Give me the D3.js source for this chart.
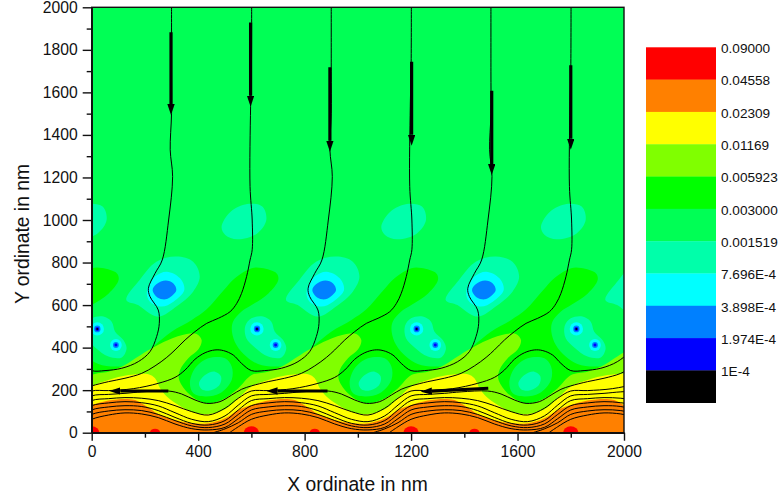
<!DOCTYPE html>
<html>
<head>
<meta charset="utf-8">
<script src="https://cdn.jsdelivr.net/npm/d3@7"></script>
<style>
  html, body { margin: 0; background: #fff; }
  text { font-family: "Liberation Sans", Arial, sans-serif; fill: #111; }
</style>
</head>
<body>
<div id="chart"></div>
<script>
// contour levels, top of the colour bar first
const levelLabels = ['0.09000','0.04558','0.02309','0.01169','0.005923','0.003000','0.001519','7.696E-4','3.898E-4','1.974E-4','1E-4'];
const levelColors = ['#ff0000','#ff8000','#ffff00','#80ff00','#00ff00','#00ff55','#00ffaa','#00ffff','#0080ff','#0000ff','#000000'];

// the field repeats every 600 nm, so one cell is traced and stamped at these offsets (nm)
const cellOffsets = [-600, 0, 600, 1200, 1800, 2400];

// band boundaries in one cell, [x nm, y nm], filled down to y = 0
const greenEdge = [[0,600],[-38,569],[-69,522],[-73,475],[-56,412],[-19,358],[25,323],[88,311],[156,323],[200,365],[238,412],[300,475],[376,530],[432,580],[495,668],[538,726],[601,773],[639,774],[695,749],[701,718],[664,655],[601,600]];
const limeEdge = [[0,271],[63,287],[125,318],[175,358],[219,392],[288,436],[357,464],[394,464],[413,436],[401,392],[363,350],[332,295],[328,251],[357,193],[401,151],[438,138],[495,157],[551,209],[601,271]];
const yellowEdge = [[0,217],[63,248],[138,271],[213,275],[238,256],[257,209],[282,170],[326,130],[376,99],[438,88],[501,110],[551,162],[601,217]];
const orangeEdge = [[0,130],[63,151],[125,159],[163,154],[207,123],[250,88],[313,60],[376,44],[438,44],[501,68],[551,107],[601,130]];

// closed islands in one cell
const tealBlob = [[130,624],[180,718],[243,804],[318,828],[381,804],[406,734],[381,663],[318,593],[255,546],[218,561],[174,600]];
const cyanBlob = [[207,663],[238,734],[282,757],[332,726],[348,671],[307,616],[263,593],[219,616]];
const azureBlob = [[229,671],[244,699],[278,715],[307,702],[318,671],[304,646],[278,627],[247,636]];
const tealDots = [[0,538],[-23,502],[-19,444],[13,401],[63,358],[113,354],[131,397],[119,436],[88,475],[75,522],[44,546]];
const tealUpper = [[-112,968],[-78,1039],[-16,1075],[41,1063],[56,1000],[22,937],[-53,909],[-98,930]];
const pocketOuter = [[369,232],[388,303],[438,350],[501,350],[526,311],[526,248],[482,185],[426,170],[382,185]];
const pocketInner = [[403,232],[426,271],[463,287],[486,264],[480,224],[444,198],[413,204]];

// small spots: centre x, centre y, radius x, radius y (nm), colour index
const spotX = [21,21,21,21,91,91,91];
const spotY = [488,488,488,488,412,412,412];
const spotRx = [25,12,7.5,3.8,22,11,5.6];
const spotRy = [31,16,9.4,4.7,28,14,7];
const spotLevel = [7,8,9,10,7,8,9];

// red caps on the floor
const capX = [0,238];
const capRx = [29,19];
const capRy = [30,19];

// streamline pieces, each crossing one cell from right to left
const lineA1 = [[300,2000],[300,1700],[300,1500],[295,1330],[304,1204],[289,1000],[265,812],[238,749],[213,679],[219,640],[250,577],[254,514],[244,452],[219,381],[175,334],[113,303],[50,292],[0,292]];
const lineB1 = [[601,2000],[600,1700],[597,1533],[595,1157],[603,1000],[603,860],[595,812],[582,734],[563,655],[545,608],[520,569],[476,538],[432,514],[388,475],[351,436],[313,389],[282,354],[238,314],[188,279],[125,256],[63,240],[0,220]];
const lineA2 = [[601,292],[563,326],[532,365],[495,386],[463,389],[426,376],[388,345],[351,295],[313,260],[250,232],[156,207],[63,198],[0,196]];
const lineB2 = [[601,220],[563,204],[526,177],[482,146],[432,138],[388,154],[338,182],[288,196],[188,192],[125,185],[63,180],[0,173]];
const lineC = [[601,196],[551,162],[501,115],[438,83],[376,99],[313,127],[250,151],[188,162],[125,165],[63,160],[0,151]];
const lineD = [[601,173],[551,130],[501,79],[438,52],[376,63],[313,94],[250,126],[188,141],[125,146],[63,140],[0,127]];
const lineE = [[601,151],[551,107],[501,57],[438,36],[376,44],[313,72],[250,104],[188,123],[125,127],[63,121],[0,107]];
const lineF = [[601,127],[551,86],[501,41],[438,24],[376,32],[313,57],[250,86],[188,104],[125,108],[63,102],[0,86]];
const lineG = [[601,107],[551,66],[501,25],[438,13],[376,19],[313,41],[250,71],[188,88],[125,93],[63,83],[0,63]];
const lineH = [[601,86],[551,47],[501,18],[457,0]];
const lineI = [[601,63],[551,28],[518,0]];

// flow arrows: start x, start y, tip x, tip y (nm)
const arrowX0 = [298,597,895,1202,1503,1800,288,886,1490];
const arrowY0 = [1883,1928,1718,1744,1608,1728,196,196,209];
const arrowX1 = [298,597,895,1202,1503,1800,66,657,1237];
const arrowY1 = [1494,1533,1321,1349,1212,1330,196,196,193];

const xMajor = [0,400,800,1200,1600,2000];
const xMinor = [200,600,1000,1400,1800];
const yMajor = [0,200,400,600,800,1000,1200,1400,1600,1800,2000];
const yMinor = [100,300,500,700,900,1100,1300,1500,1700,1900];

const W = 780, H = 500;
const svg = d3.select('#chart').append('svg').attr('width', W).attr('height', H).style('display','block');

const x = d3.scaleLinear().domain([0,2000]).range([91.7,624]);
const y = d3.scaleLinear().domain([0,2000]).range([432.7,7.3]);

svg.append('defs').append('clipPath').attr('id','plot')
  .append('rect')
    .attr('x', x(0)).attr('y', y(2000))
    .attr('width', x(2000)-x(0)).attr('height', y(0)-y(2000));

const headLen = 11;
const head = svg.select('defs').append('marker')
    .attr('id','head')
    .attr('markerUnits','userSpaceOnUse')
    .attr('viewBox',`0 0 ${headLen} 7.4`)
    .attr('refX',0).attr('refY',3.7)
    .attr('markerWidth',headLen).attr('markerHeight',7.4)
    .attr('orient','auto');
head.append('path').attr('d',`M0,0L${headLen},3.7L0,7.4Z`).attr('fill','#000');

const plot = svg.append('g').attr('clip-path','url(#plot)');

plot.append('rect')
  .attr('x', x(0)).attr('y', y(2000))
  .attr('width', x(2000)-x(0)).attr('height', y(0)-y(2000))
  .attr('fill', levelColors[5]);

const smooth = d3.line().x(d => x(d[0])).y(d => y(d[1])).curve(d3.curveCatmullRom.alpha(0.5));
const smoothClosed = d3.line().x(d => x(d[0])).y(d => y(d[1])).curve(d3.curveCatmullRomClosed.alpha(0.5));
const shift = (pts, dx) => pts.map(p => [p[0]+dx, p[1]]);

// glue pieces into one run, each piece dropping the point it shares with the last
function glue(pieces) {
  let out = [];
  pieces.forEach(([pts, dx], i) => {
    out = out.concat(shift(i ? pts.slice(1) : pts, dx));
  });
  return out;
}

function island(pts, level) {
  plot.append('g').selectAll('path').data(cellOffsets).join('path')
    .attr('d', dx => smoothClosed(shift(pts, dx)))
    .attr('fill', levelColors[level]);
}
function band(pts, level) {
  const run = glue(cellOffsets.map(dx => [pts, dx]));
  plot.append('path')
    .attr('d', smooth(run) + `L${x(run[run.length-1][0])},${y(0)+2}L${x(run[0][0])},${y(0)+2}Z`)
    .attr('fill', levelColors[level]);
}

island(tealUpper, 6);
island(tealBlob, 6);
island(cyanBlob, 7);
island(azureBlob, 8);
island(tealDots, 6);

spotX.forEach((sx, i) => {
  plot.append('g').selectAll('ellipse').data(cellOffsets).join('ellipse')
    .attr('cx', dx => x(sx+dx))
    .attr('cy', y(spotY[i]))
    .attr('rx', x(spotRx[i])-x(0))
    .attr('ry', y(0)-y(spotRy[i]))
    .attr('fill', levelColors[spotLevel[i]]);
});

band(greenEdge, 4);
island(pocketOuter, 5);
island(pocketInner, 6);
band(limeEdge, 3);
band(yellowEdge, 2);
band(orangeEdge, 1);

capX.forEach((cx, i) => {
  plot.append('g').selectAll('ellipse').data(cellOffsets).join('ellipse')
    .attr('cx', dx => x(cx+dx))
    .attr('cy', y(0))
    .attr('rx', x(capRx[i])-x(0))
    .attr('ry', y(0)-y(capRy[i]))
    .attr('fill', levelColors[0]);
});

// whole streamlines: each one steps a cell left and a level down
const chainA = [lineA1,lineA2,lineC,lineE,lineG,lineI];
const chainB = [lineB1,lineB2,lineD,lineF,lineH];
const chainStarts = [0,600,1200,1800,2400,3000,3600,4200,4800];
[chainA, chainB].forEach(chain => {
  plot.append('g').selectAll('path').data(chainStarts).join('path')
    .attr('d', t => smooth(glue(chain.map((pts, k) => [pts, t - 600*k]))))
    .attr('fill','none')
    .attr('stroke','#000')
    .attr('stroke-width',1);
});

// arrows: shaft stops where the head begins
const shaftEnd = i => {
  const ax = x(arrowX0[i]), ay = y(arrowY0[i]), bx = x(arrowX1[i]), by = y(arrowY1[i]);
  const len = Math.hypot(bx-ax, by-ay);
  return [bx-(bx-ax)/len*headLen, by-(by-ay)/len*headLen];
};
plot.append('g').selectAll('line').data(arrowX0).join('line')
  .attr('x1', d => x(d))
  .attr('y1', (d,i) => y(arrowY0[i]))
  .attr('x2', (d,i) => shaftEnd(i)[0])
  .attr('y2', (d,i) => shaftEnd(i)[1])
  .attr('stroke','#000')
  .attr('stroke-width',3.2)
  .attr('marker-end','url(#head)');

// frame and axes
svg.append('rect')
  .attr('x', x(0)).attr('y', y(2000))
  .attr('width', x(2000)-x(0)).attr('height', y(0)-y(2000))
  .attr('fill','none').attr('stroke','#111').attr('stroke-width',1.4);

function styleAxis(g) {
  g.selectAll('line,path').attr('stroke','#111').attr('stroke-width',1.4);
  g.selectAll('text').attr('font-size',15.7).attr('fill','#111');
}
svg.append('g').attr('transform',`translate(0,${y(0)})`)
  .call(d3.axisBottom(x).tickValues(xMajor).tickSize(8).tickSizeOuter(0).tickPadding(5).tickFormat(d3.format('d')))
  .call(styleAxis);
svg.append('g').attr('transform',`translate(0,${y(0)})`)
  .call(d3.axisBottom(x).tickValues(xMinor).tickSize(5).tickSizeOuter(0).tickFormat(''))
  .call(styleAxis);
svg.append('g').attr('transform',`translate(${x(0)},0)`)
  .call(d3.axisLeft(y).tickValues(yMajor).tickSize(9).tickSizeOuter(0).tickPadding(5).tickFormat(d3.format('d')))
  .call(styleAxis);
svg.append('g').attr('transform',`translate(${x(0)},0)`)
  .call(d3.axisLeft(y).tickValues(yMinor).tickSize(5).tickSizeOuter(0).tickFormat(''))
  .call(styleAxis);

svg.append('text')
  .attr('x',357.5).attr('y',490.5)
  .attr('text-anchor','middle').attr('font-size',19.3)
  .text('X ordinate in nm');
svg.append('text')
  .attr('transform',`translate(28.5,234) rotate(-90)`)
  .attr('text-anchor','middle').attr('font-size',19.3)
  .text('Y ordinate in nm');

// colour bar
const barY = d3.scaleLinear().domain([0,levelColors.length]).range([47.3,402.7]);
const bar = svg.append('g');
bar.selectAll('rect').data(levelColors).join('rect')
  .attr('x',646).attr('width',70)
  .attr('y',(d,i) => barY(i))
  .attr('height',(d,i) => barY(i+1)-barY(i)+0.3)
  .attr('fill',d => d);
bar.selectAll('text').data(levelLabels).join('text')
  .attr('x',721)
  .attr('y',(d,i) => barY(i)+1)
  .attr('dy','0.35em')
  .attr('font-size',13.6)
  .text(d => d);
</script>
</body>
</html>
